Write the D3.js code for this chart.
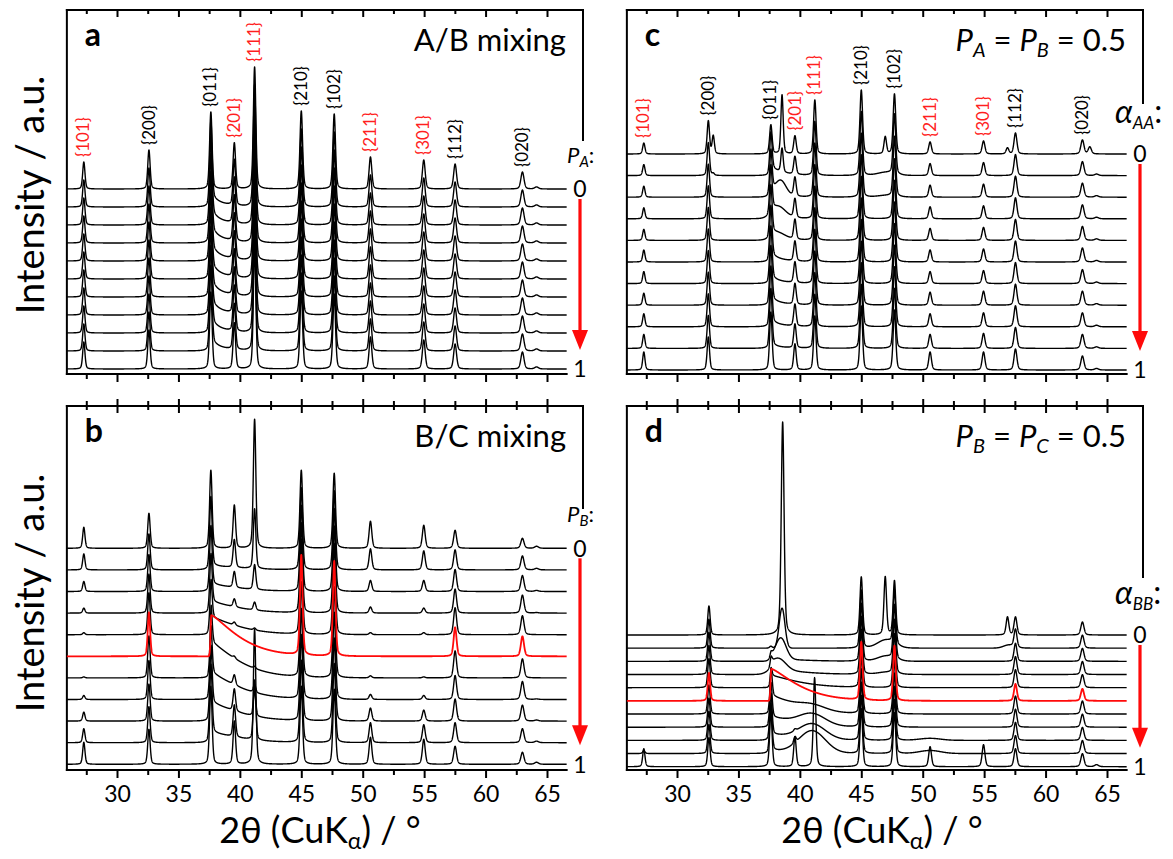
<!DOCTYPE html>
<html><head><meta charset="utf-8">
<script src="https://cdn.jsdelivr.net/npm/d3@7"></script>
<style>
body{margin:0;background:#fff}
svg{display:block}
text{font-family:Lato,"Open Sans",sans-serif;fill:#000}
</style>
</head><body>
<svg id="chart" width="1173" height="859"></svg>
<script>
// ================= DATA =================
const nCurves = 11;
const xMajorTicks = [30, 35, 40, 45, 50, 55, 60, 65];
const xMinorTicks = [27.5, 32.5, 37.5, 42.5, 47.5, 52.5, 57.5, 62.5];
const xTickLabels = ["30", "35", "40", "45", "50", "55", "60", "65"];
const xStart = 25.92, xEnd = 66.6;

// ---- panel a : A/B mixing (same reflections for every P_A) ----
const posA    = [27.3, 32.6, 37.64, 39.55, 41.2, 45.0, 47.68, 50.63, 54.97, 57.52, 63.0, 64.15];
const fwhmA   = [0.22, 0.23, 0.24, 0.24, 0.24, 0.25, 0.25, 0.26, 0.27, 0.28, 0.30, 0.36];
const heightA = [27, 39, 77, 46, 122, 78, 75, 32, 29, 25, 17, 2];
const tailA   = [0, 10, 12, 13, 13, 13, 13, 12, 11, 9, 0];     // diffuse tail after {011}

// ---- panel b : B/C mixing ----
const posB  = [27.3, 32.6, 37.64, 39.55, 41.2, 45.0, 47.68, 50.63, 54.97, 57.52, 63.0, 64.15];
const fwhmB = [0.22, 0.23, 0.24, 0.24, 0.24, 0.25, 0.25, 0.26, 0.27, 0.28, 0.30, 0.36];
const heightB = [
  [21, 16, 10, 5, 2, 0, 1, 4, 9, 14, 22],
  [35, 36, 37, 39, 42, 44, 42, 39, 37, 36, 35],
  [78, 70, 60, 50, 40, 0, 40, 50, 60, 70, 78],
  [43, 28, 16, 8, 3, 0, 2, 10, 22, 32, 43],
  [129, 60, 25, 8, 2, 0, 2, 8, 25, 60, 135],
  [78, 82, 86, 90, 95, 100, 95, 90, 86, 82, 78],
  [75, 79, 83, 87, 91, 95, 91, 87, 83, 79, 75],
  [27, 21, 11, 6, 2, 0, 2, 5, 13, 20, 27],
  [23, 19, 11, 5, 2, 0, 1, 4, 11, 18, 25],
  [18, 20, 22, 24, 27, 29, 27, 24, 22, 20, 18],
  [10, 14, 16, 18, 19, 20, 19, 18, 16, 14, 12],
  [2, 1.5, 1, 0.5, 0, 0, 0, 0.5, 1, 1.5, 2]
];
const tailB = [0, 4, 7, 11, 17, 41, 35, 26, 18, 10, 0];

// ---- panel c : P_A = P_B = 0.5, alpha_AA 0..1 ----
const posC  = [27.3, 32.55, 32.95, 37.64, 38.55, 39.6, 41.22, 45.0, 46.95, 47.7, 50.6, 54.95, 56.9, 57.55, 63.0, 63.6, 64.15];
const fwhmC = [0.22, 0.23, 0.22, 0.24, 0.22, 0.24, 0.24, 0.25, 0.24, 0.25, 0.26, 0.27, 0.26, 0.28, 0.30, 0.30, 0.36];
const heightC = [
  [11, 11, 11, 11, 11, 12, 12, 12, 13, 14, 18],
  [33, 33, 33, 33, 33, 33, 33, 33, 33, 33, 33],
  [18, 2, 0, 0, 0, 0, 0, 0, 0, 0, 0],
  [29, 36, 40, 44, 47, 50, 52, 54, 56, 57, 58],
  [59, 24, 0, 0, 0, 0, 0, 0, 0, 0, 0],
  [18, 18, 19, 19, 20, 20, 21, 21, 22, 24, 26],
  [54, 54, 54, 54, 54, 54, 54, 54, 54, 54, 54],
  [64, 64, 64, 64, 64, 64, 64, 64, 64, 64, 64],
  [17, 0, 0, 0, 0, 0, 0, 0, 0, 0, 0],
  [60, 60, 60, 60, 60, 60, 60, 60, 60, 60, 60],
  [12, 12, 12, 12, 12, 12, 12, 13, 13, 14, 18],
  [13, 13, 13, 13, 13, 13, 13, 14, 14, 15, 18],
  [6, 0, 0, 0, 0, 0, 0, 0, 0, 0, 0],
  [21, 21, 21, 21, 21, 21, 21, 21, 21, 21, 21],
  [14, 14, 14, 14, 14, 14, 14, 14, 14, 14, 14],
  [7, 0, 0, 0, 0, 0, 0, 0, 0, 0, 0],
  [0, 1.5, 1.5, 1.5, 1.5, 1.5, 1.5, 1.5, 1.5, 1.5, 1.5]
];
const broadC = [
  {pos: 38.45, fwhm: 1.0, h: [0, 0, 14, 0, 0, 0, 0, 0, 0, 0, 0]},
  {pos: 38.3,  fwhm: 1.3, h: [0, 0, 0, 9, 4, 0, 0, 0, 0, 0, 0]},
  {pos: 47.0,  fwhm: 1.6, h: [0, 3, 1.5, 0, 0, 0, 0, 0, 0, 0, 0]}
];
const tailC = [0, 8, 6, 6, 7, 7, 6, 6, 5, 3, 0];

// ---- panel d : P_B = P_C = 0.5, alpha_BB 0..1 ----
const posD  = [27.3, 32.6, 37.64, 38.6, 39.6, 41.2, 45.0, 46.95, 47.7, 50.6, 54.95, 56.9, 57.55, 63.0, 64.15];
const fwhmD = [0.22, 0.23, 0.24, 0.27, 0.24, 0.24, 0.25, 0.25, 0.25, 0.26, 0.27, 0.26, 0.28, 0.30, 0.36];
const heightD = [
  [0, 0, 0, 0, 0, 0, 0, 0, 0, 3, 18],
  [29, 29, 29, 29, 29, 28, 29, 29, 29, 29, 29],
  [0, 2, 4, 6, 8, 0, 30, 36, 42, 48, 55],
  [213, 0, 0, 0, 0, 0, 0, 0, 0, 0, 0],
  [0, 0, 0, 0, 0, 0, 0, 0, 2, 6, 30],
  [0, 0, 0, 0, 0, 0, 0, 0, 0, 0, 89],
  [58, 58, 58, 58, 58, 58, 58, 58, 58, 58, 58],
  [58, 0, 0, 0, 0, 0, 0, 0, 0, 0, 0],
  [54, 54, 54, 54, 54, 55, 54, 54, 54, 54, 54],
  [0, 0, 0, 0, 0, 0, 0, 0, 0, 0, 20],
  [0, 0, 0, 0, 0, 0, 0, 0, 0, 0, 22],
  [18, 0, 0, 0, 0, 0, 0, 0, 0, 0, 0],
  [18, 18, 18, 18, 18, 17, 18, 18, 18, 18, 18],
  [13, 13, 13, 13, 13, 12, 13, 13, 13, 13, 13],
  [0, 0, 0, 0, 0, 0, 0, 0, 0, 0, 2]
];
const broadD = [
  {pos: 38.55, fwhm: 0.55, h: [0, 40, 0, 0, 0, 0, 0, 0, 0, 0, 0]},
  {pos: 38.45, fwhm: 1.0,  h: [0, 0, 21, 0, 0, 0, 0, 0, 0, 0, 0]},
  {pos: 38.25, fwhm: 1.4,  h: [0, 0, 0, 11, 0, 0, 0, 0, 0, 0, 0]},
  {pos: 47.0,  fwhm: 1.6,  h: [0, 8, 5, 2, 0, 0, 0, 0, 0, 0, 0]},
  {pos: 57.0,  fwhm: 1.0,  h: [0, 3, 0, 0, 0, 0, 0, 0, 0, 0, 0]},
  {pos: 41.0,  fwhm: 2.5,  h: [0, 0, 0, 0, 0, 0, 5, 11, 15, 22, 0]},
  {pos: 50.6,  fwhm: 2.0,  h: [0, 0, 0, 0, 0, 0, 0, 0, 2, 3, 0]}
];
const tailD = [0, 0, 3, 6, 12, 32, 18, 10, 6, 3, 0];

// reflection labels
const reflA = [[27.3,"{101}",1],[32.6,"{200}",0],[37.64,"{011}",0],[39.55,"{201}",1],[41.2,"{111}",1],[45.0,"{210}",0],[47.68,"{102}",0],[50.63,"{211}",1],[54.97,"{301}",1],[57.52,"{112}",0],[63.0,"{020}",0]];
const reflC = [[27.3,"{101}",1],[32.55,"{200}",0],[37.64,"{011}",0],[39.6,"{201}",1],[41.22,"{111}",1],[45.0,"{210}",0],[47.7,"{102}",0],[50.6,"{211}",1],[54.95,"{301}",1],[57.55,"{112}",0],[63.0,"{020}",0]];

// ================= BUILD =================
const RED = "#ff0a0a", LBLRED = "#ff1f1f";
const expand = arr => arr.map(v => d3.range(nCurves).map(() => v));

const panels = [
  {key:"a", dx:0,   top:10,  axisY:374, base0:189,   step:18,    rEnd:140, ticksTop:"in",    xlab:false,
   pos:posA, fwhm:fwhmA, h:expand(heightA), broad:[], tail:{pos:37.66, tau:1.0, p:1.0, amp:tailA}, red:-1,
   refl:reflA, title:[{t:"A/B mixing"}], pl:[{t:"P",i:1},{t:"A",i:1,s:1},{t:":"}], alpha:false},
  {key:"b", dx:0,   top:406, axisY:770, base0:548.3, step:21.6,  rEnd:508, ticksTop:"cross", xlab:true,
   pos:posB, fwhm:fwhmB, h:heightB, broad:[], tail:{pos:37.68, tau:2.87, p:1.3, amp:tailB}, red:5,
   refl:null, title:[{t:"B/C mixing"}], pl:[{t:"P",i:1},{t:"B",i:1,s:1},{t:":"}], alpha:false},
  {key:"c", dx:560, top:10,  axisY:374, base0:154,   step:21.6,  rEnd:103, ticksTop:"in",    xlab:false,
   pos:posC, fwhm:fwhmC, h:heightC, broad:broadC, tail:{pos:37.66, tau:1.0, p:1.0, amp:tailC}, red:-1,
   refl:reflC, title:[{t:"P",i:1},{t:"A",i:1,s:1},{t:" = "},{t:"P",i:1},{t:"B",i:1,s:1},{t:" = 0.5"}],
   pl:[{t:"α",i:1},{t:"AA",i:1,s:1},{t:":"}], alpha:true},
  {key:"d", dx:560, top:406, axisY:770, base0:635,   step:13.17, rEnd:577, ticksTop:"cross", xlab:true,
   pos:posD, fwhm:fwhmD, h:heightD, broad:broadD, tail:{pos:37.68, tau:2.87, p:1.3, amp:tailD}, red:5,
   refl:null, title:[{t:"P",i:1},{t:"B",i:1,s:1},{t:" = "},{t:"P",i:1},{t:"C",i:1,s:1},{t:" = 0.5"}],
   pl:[{t:"α",i:1},{t:"BB",i:1,s:1},{t:":"}], alpha:true}
];

const ETA = 0.35;
function pv(dx, w){ const t = 2*dx/w, t2 = t*t; return ETA/(1+t2) + (1-ETA)*Math.exp(-Math.LN2*t2); }
function gauss(dx, w){ const t = 2*dx/w; return Math.exp(-Math.LN2*t*t); }
function tailShape(dx, tau, p){ return dx < 0 ? Math.exp(-(dx/0.09)*(dx/0.09)) : Math.exp(-Math.pow(dx/tau, p)); }

function value(P, i, th){
  let v = 0;
  for (let k = 0; k < P.pos.length; k++){ const h = P.h[k][i]; if (h) v += h*pv(th - P.pos[k], P.fwhm[k]); }
  for (const b of P.broad){ const h = b.h[i]; if (h) v += h*gauss(th - b.pos, b.fwhm); }
  const a = P.tail.amp[i]; if (a) v += a*tailShape(th - P.tail.pos, P.tail.tau, P.tail.p);
  return v;
}

const svg = d3.select("#chart");
const thetas = d3.range(xStart, xEnd + 1e-9, 0.01);

panels.forEach(P => {
  const g = svg.append("g");
  const x = d3.scaleLinear().domain([30, 65]).range([117 + P.dx, 547 + P.dx]);
  const left = x(xStart), right = 583 + P.dx, curveEnd = x(xEnd);
  const baseBottom = P.base0 + (nCurves-1)*P.step;
  const y = d3.scaleLinear().domain([0, 100]).range([baseBottom, baseBottom - 100]);
  const offset = i => (nCurves-1-i)*P.step;

  // frame
  const frame = [[left, P.axisY, left, P.top], [left, P.top, right, P.top], [right, P.top, right, P.rEnd], [left, P.axisY, curveEnd, P.axisY]];
  g.selectAll("line.frame").data(frame).join("line").attr("class","frame")
    .attr("x1", d=>d[0]).attr("y1", d=>d[1]).attr("x2", d=>d[2]).attr("y2", d=>d[3])
    .attr("stroke","#000").attr("stroke-width",2).attr("stroke-linecap","square");

  // ticks
  function tickAxis(gen, yPos, vals, size, fmt){
    const a = g.append("g").attr("transform", `translate(0,${yPos})`)
      .call(gen(x).tickValues(vals).tickSize(size).tickPadding(8).tickFormat(fmt || (()=>"")));
    a.select(".domain").remove();
    a.selectAll("line").attr("stroke","#000").attr("stroke-width",2);
    return a;
  }
  tickAxis(d3.axisBottom, P.top, xMajorTicks, 7); tickAxis(d3.axisBottom, P.top, xMinorTicks, 4);
  if (P.ticksTop === "cross"){ tickAxis(d3.axisTop, P.top, xMajorTicks, 7); tickAxis(d3.axisTop, P.top, xMinorTicks, 5); }
  const bot = tickAxis(d3.axisBottom, P.axisY, xMajorTicks, 8, P.xlab ? ((d,i)=>xTickLabels[i]) : null);
  tickAxis(d3.axisBottom, P.axisY, xMinorTicks, 5);
  if (P.xlab){
    bot.selectAll("text").attr("font-family","Lato, 'Open Sans', sans-serif").attr("font-size",23).attr("fill","#000");
  }

  // curves
  const line = d3.line().x(d => x(d[0])).y(d => y(d[1]));
  const order = d3.range(nCurves).filter(i => i !== P.red);
  if (P.red >= 0) order.push(P.red);
  order.forEach(i => {
    const pts = thetas.map(th => [th, offset(i) + value(P, i, th)]);
    g.append("path").attr("d", line(pts)).attr("fill","none")
      .attr("stroke", i === P.red ? RED : "#000").attr("stroke-width", i === P.red ? 1.8 : 1.4)
      .attr("stroke-linejoin","round");
  });

  // reflection labels
  if (P.refl){
    P.refl.forEach(([pos, txt, red]) => {
      const yy = y(offset(0) + value(P, 0, pos)) - 5;
      g.append("text").attr("transform", `translate(${x(pos)},${yy}) rotate(-90)`)
        .attr("text-anchor","start").attr("dy","0.33em").attr("font-size",17)
        .style("fill", red ? LBLRED : "#000").text(txt);
    });
  }

  // panel letter & description
  g.append("text").attr("x", left + 18).attr("y", P.top + 36).attr("font-size",32).attr("font-weight","bold").text(P.key);
  const tt = g.append("text").attr("x", 566 + P.dx).attr("y", P.top + 41).attr("text-anchor","end").attr("font-size",31);
  P.title.forEach(s => {
    const sp = tt.append("tspan").text(s.t);
    if (s.i) sp.attr("font-style","italic");
    if (s.s) sp.attr("font-size",20).attr("baseline-shift","-30%");
  });

  // series label (P_X: or alpha_XX:)
  const y0 = P.base0, y10 = baseBottom;
  const pl = g.append("text").attr("x", (P.alpha ? 555 : 567) + P.dx).attr("y", y0 - (P.alpha ? 31 : 26))
    .attr("font-size", P.alpha ? 32 : 22);
  P.pl.forEach(s => {
    const sp = pl.append("tspan").text(s.t);
    if (s.i) sp.attr("font-style","italic");
    if (s.s) sp.attr("font-size", P.alpha ? 17 : 15).attr("baseline-shift", P.alpha ? "-35%" : "-25%");
  });
  const ax = 580 + P.dx;
  g.append("text").attr("x", ax).attr("y", y0).attr("dy","0.36em").attr("text-anchor","middle").attr("font-size",23).text("0");
  g.append("text").attr("x", ax).attr("y", y10).attr("dy","0.36em").attr("text-anchor","middle").attr("font-size",23).text("1");
  // red arrow
  const tip = y10 - 19;
  g.append("line").attr("x1", ax).attr("x2", ax).attr("y1", y0 + 10).attr("y2", tip - 14)
    .attr("stroke", RED).attr("stroke-width", 3.2);
  g.append("path").attr("d", `M${ax-8},${tip-20}L${ax+8},${tip-20}L${ax},${tip}Z`).attr("fill", RED);
});

// axis titles
[[44, 195], [44, 593]].forEach(([xx, yy]) => {
  svg.append("text").attr("transform", `translate(${xx},${yy}) rotate(-90)`).attr("text-anchor","middle")
    .attr("font-size",38).text("Intensity / a.u.");
});
[320, 882].forEach(cx => {
  const t = svg.append("text").attr("x", cx).attr("y", 843).attr("text-anchor","middle").attr("font-size",36);
  t.append("tspan").text("2θ (CuK");
  t.append("tspan").text("α").attr("font-size",23).attr("baseline-shift","-25%");
  t.append("tspan").text(") / °");
});
</script>
</body></html>
